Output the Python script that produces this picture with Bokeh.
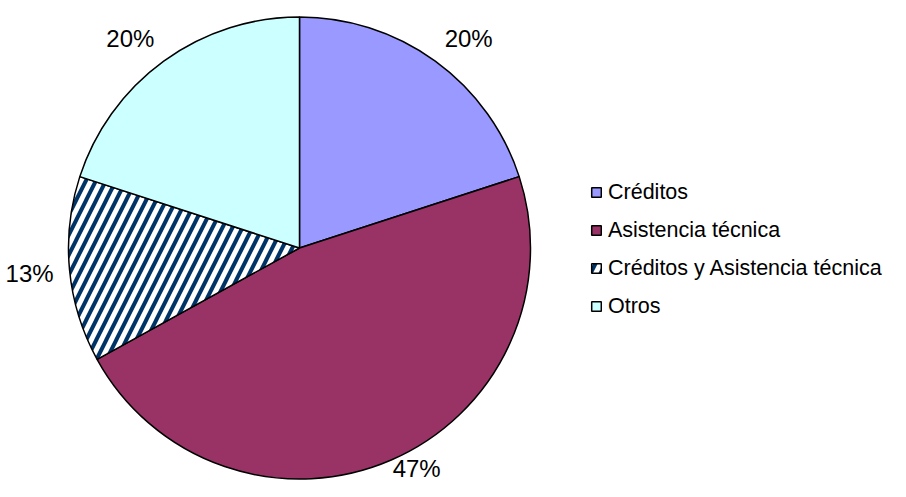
import math
from bokeh.plotting import figure
from bokeh.models import Range1d, Legend, LegendItem, ColumnDataSource
from bokeh.core.properties import value
from bokeh.embed import file_html
from bokeh.resources import INLINE

# ---- data ----
categories = ["Créditos", "Asistencia técnica", "Créditos y Asistencia técnica", "Otros"]
values = [20, 47, 13, 20]
labels = ["20%", "47%", "13%", "20%"]

# ---- styles ----
fill_colors = ["#9999FF", "#993366", "#FFFFFF", "#CCFFFF"]
hatches = [None, None, "/", None]

W, H = 890, 481
TOP = 497  # data y = TOP - screen y
p = figure(width=W, height=H, output_backend="svg", toolbar_location=None,
           x_range=Range1d(0, W), y_range=Range1d(TOP - H, TOP), min_border=0)
p.axis.visible = False
p.grid.visible = False
p.outline_line_color = None

cx, cy = 299, TOP - 247.5
R = 231
GAP = 16          # distance of label's nearest corner from the pie edge
HW, HH = 24, 10   # half size of a label box

def clamp(v, lo, hi):
    return max(lo, min(hi, v))

total = sum(values)
cum = 0.0
items = []
lx, ly = [], []
for cat, v, lab, fc, h in zip(categories, values, labels, fill_colors, hatches):
    c0 = cum / total
    c1 = (cum + v) / total
    cum += v
    start = math.pi / 2 - 2 * math.pi * c1
    end = math.pi / 2 - 2 * math.pi * c0
    kw = {}
    if h:
        kw = dict(hatch_pattern=h, hatch_color="#003366", hatch_scale=20, hatch_weight=4)
    r = p.wedge(x=cx, y=cy, radius=R, start_angle=start, end_angle=end,
                fill_color=fc, line_color="black", line_width=1.5, **kw)
    items.append(LegendItem(label=cat, renderers=[r]))
    mid = math.pi / 2 - 2 * math.pi * (c0 + c1) / 2
    dx, dy = math.cos(mid), math.sin(mid)
    x = cx + (R + GAP) * dx + HW * clamp(dx / 0.5, -1, 1)
    y = cy + (R + GAP) * dy + HH * clamp(dy / 0.5, -1, 1)
    y = max(y, TOP - H + 13)  # keep text inside the canvas
    lx.append(x)
    ly.append(y)

src = ColumnDataSource(dict(x=lx, y=ly, t=labels))
p.text(x="x", y="y", text="t", source=src, text_align="center", text_baseline="middle",
       text_font=value("Liberation Sans"), text_font_size="24px", text_color="black")

legend = Legend(items=items, location=(590, 162), orientation="vertical",
                padding=0, margin=0, spacing=12, label_height=26,
                glyph_width=12, glyph_height=12, label_standoff=6,
                label_text_font="Liberation Sans", label_text_font_size="21.5px",
                label_text_color="black",
                border_line_alpha=0, background_fill_alpha=0)
p.add_layout(legend, "center")

open("out.html", "w").write(file_html(p, INLINE))
